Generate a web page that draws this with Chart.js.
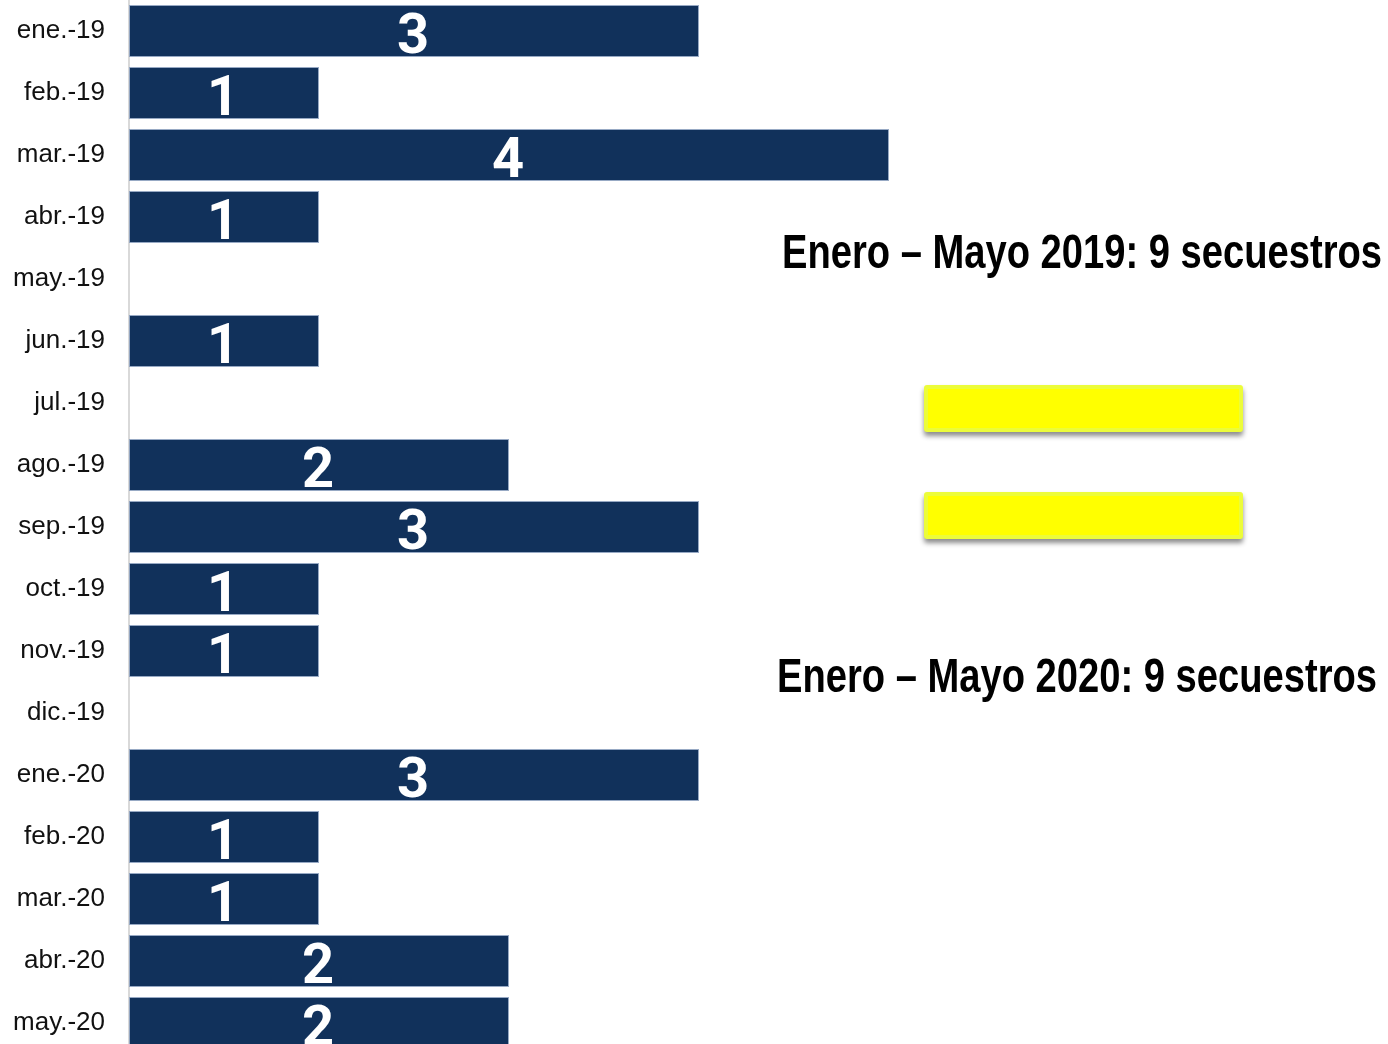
<!DOCTYPE html>
<html>
<head>
<meta charset="utf-8">
<script src="https://cdn.jsdelivr.net/npm/chart.js@4"></script>
<style>
    html, body { margin: 0; padding: 0; background: #fff; overflow: hidden; }
    #secuestrosChart { display: block; }
</style>
</head>
<body>
<canvas id="secuestrosChart" width="1388" height="1054"></canvas>
<script>
const months = [
    'ene.-19', 'feb.-19', 'mar.-19', 'abr.-19', 'may.-19', 'jun.-19',
    'jul.-19', 'ago.-19', 'sep.-19', 'oct.-19', 'nov.-19', 'dic.-19',
    'ene.-20', 'feb.-20', 'mar.-20', 'abr.-20', 'may.-20',
];
const kidnappings = [3, 1, 4, 1, 0, 1, 0, 2, 3, 1, 1, 0, 3, 1, 1, 2, 2];
const summaries = [
    'Enero – Mayo 2019: 9 secuestros',
    'Enero – Mayo 2020: 9 secuestros',
];

const barColor = '#11315b';

// white count written inside each bar
const valueLabels = {
    id: 'valueLabels',
    afterDatasetsDraw(chart) {
        const { ctx } = chart;
        const meta = chart.getDatasetMeta(0);
        ctx.save();
        ctx.fillStyle = '#ffffff';
        ctx.font = 'bold 56px Roboto, "Liberation Sans", Arial, sans-serif';
        ctx.textAlign = 'center';
        ctx.textBaseline = 'alphabetic';
        meta.data.forEach((bar, i) => {
            const value = kidnappings[i];
            if (!value) return;
            const cx = (bar.base + bar.x) / 2 - 1;
            ctx.fillText(String(value), cx, bar.y + 22);
        });
        ctx.restore();
    },
};

// period totals and the yellow "equals" sign between them
const summaryPanel = {
    id: 'summaryPanel',
    afterDraw(chart) {
        const { ctx } = chart;
        ctx.save();
        ctx.fillStyle = '#000000';
        ctx.font = 'bold 49px "Liberation Sans Narrow", "Liberation Sans", Arial, sans-serif';
        ctx.textAlign = 'left';
        ctx.textBaseline = 'alphabetic';
        ctx.fillText(summaries[0], 782, 268, 600);
        ctx.fillText(summaries[1], 777, 692, 600);

        const drawBar = (x, y, w, h) => {
            ctx.save();
            ctx.shadowColor = 'rgba(0, 0, 0, 0.45)';
            ctx.shadowBlur = 5;
            ctx.shadowOffsetY = 4;
            ctx.fillStyle = '#ecfc3a';
            ctx.beginPath();
            ctx.roundRect(x, y, w, h, 3);
            ctx.fill();
            ctx.restore();
            ctx.fillStyle = '#ffff00';
            ctx.fillRect(x + 4, y + 4, w - 8, h - 8);
        };
        drawBar(924, 385, 319, 47);
        drawBar(924, 492, 319, 47);
        ctx.restore();
    },
};

new Chart(document.getElementById('secuestrosChart'), {
    type: 'bar',
    data: {
        labels: months,
        datasets: [
            {
                data: kidnappings,
                backgroundColor: barColor,
                borderColor: 'rgba(140, 160, 190, 0.9)',
                borderWidth: 1,
                borderSkipped: false,
                categoryPercentage: 1,
                barPercentage: 0.84,
            },
        ],
    },
    options: {
        indexAxis: 'y',
        responsive: false,
        animation: false,
        layout: {
            padding: { left: 0, right: 119, top: 0, bottom: 0 },
        },
        plugins: {
            legend: { display: false },
            tooltip: { enabled: false },
        },
        scales: {
            x: {
                display: false,
                min: 0,
                max: 6,
            },
            y: {
                grid: { display: false, drawTicks: false },
                border: { display: true, color: '#d9d9d9', width: 2 },
                ticks: {
                    color: '#111111',
                    padding: 24,
                    font: { family: '"Liberation Sans", Arial, sans-serif', size: 26 },
                },
                afterFit(scale) {
                    // labels sit beside their bars, so no room is kept above or below the list
                    scale.width = 129;
                    scale.paddingTop = 0;
                    scale.paddingBottom = 0;
                },
            },
        },
    },
    plugins: [valueLabels, summaryPanel],
});
</script>
</body>
</html>
